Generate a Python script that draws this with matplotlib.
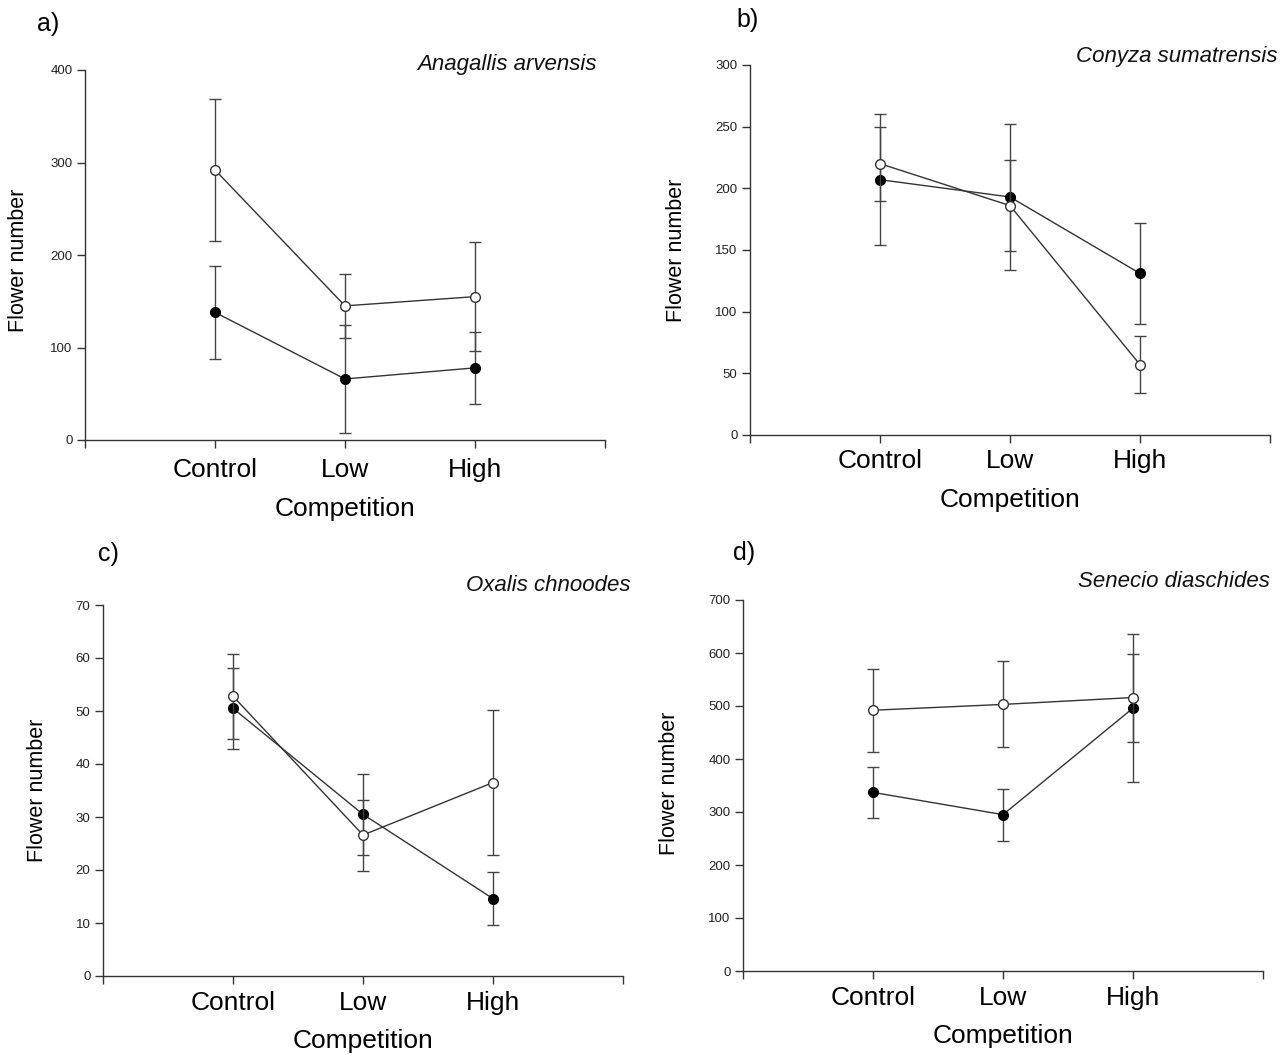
import numpy as np
import matplotlib
matplotlib.use('Agg')
import matplotlib.pyplot as plt

plt.rcParams['font.family'] = ['Liberation Sans', 'DejaVu Sans']

categories = ['Control', 'Low', 'High']
panels = ['a)', 'b)', 'c)', 'd)']
species = ['Anagallis arvensis', 'Conyza sumatrensis', 'Oxalis chnoodes', 'Senecio diaschides']

# open circles
open_mean = [[292, 145, 155], [220, 186, 57], [52.8, 26.6, 36.5], [492, 503, 516]]
open_err = [[77, 35, 59], [30, 37, 23], [8.0, 6.7, 13.7], [78, 81, 83]]
# filled circles
fill_mean = [[138, 66, 78], [207, 193, 131], [50.5, 30.5, 14.6], [337, 295, 496]]
fill_err = [[50, 58, 39], [53, 59, 41], [7.6, 7.6, 5.0], [48, 49, 139]]

y_max = [400, 300, 70, 700]
y_step = [100, 50, 10, 100]

W, H = 1288, 1055
# axes boxes in pixels: left, right, top, bottom
boxes = [(85, 605, 70, 440), (750, 1270, 65, 435), (103, 623, 605, 976), (743, 1263, 600, 971)]
ylab_xy = [(-0.108, 0.486), (-0.121, 0.5), (-0.106, 0.5), (-0.121, 0.507)]
xtick_pad = [7, 4, 5, 5]
xlab_pad = [11, 11, 10, 10]
label_pos = [(37, 24), (736, 20), (98, 554), (733, 553)]
species_pos = [(597, 70), (1277, 62), (631, 591), (1270, 587)]

fig = plt.figure(figsize=(W / 100, H / 100), dpi=100)
x = np.arange(1, 4)
dark = '#333333'

for i in range(4):
    l, r, t, b = boxes[i]
    ax = fig.add_axes([l / W, 1 - b / H, (r - l) / W, (b - t) / H])
    ax.errorbar(x, fill_mean[i], yerr=fill_err[i], color=dark, lw=1, elinewidth=1,
                ecolor='#444444', capsize=4, capthick=1, marker='o', ms=7,
                mfc='black', mec='black', zorder=2)
    ax.errorbar(x, open_mean[i], yerr=open_err[i], color=dark, lw=1, elinewidth=1,
                ecolor='#444444', capsize=4, capthick=1, marker='o', ms=7,
                mfc='white', mec=dark, mew=1, zorder=3)
    ax.set_xlim(0, 4)
    ax.set_ylim(0, y_max[i])
    ax.set_xticks(range(5))
    ax.set_xticklabels([''] + categories + [''], fontsize=19)
    ax.set_yticks(np.arange(0, y_max[i] + 1, y_step[i]))
    ax.tick_params(axis='y', direction='out', length=6, width=1, color=dark,
                   labelsize=9.5, labelcolor='#222222', pad=3)
    ax.tick_params(axis='x', direction='out', length=6, width=1, color=dark,
                   pad=xtick_pad[i])
    for s in ['top', 'right']:
        ax.spines[s].set_visible(False)
    for s in ['left', 'bottom']:
        ax.spines[s].set_color(dark)
        ax.spines[s].set_linewidth(1)
    ax.set_xlabel('Competition', fontsize=19, labelpad=xlab_pad[i])
    ax.set_ylabel('Flower number', fontsize=15.5)
    ax.yaxis.set_label_coords(*ylab_xy[i])
    px, py = label_pos[i]
    fig.text(px / W, 1 - py / H, panels[i], fontsize=18, ha='left', va='center')
    sx, sy = species_pos[i]
    fig.text(sx / W, 1 - sy / H, species[i], fontsize=16, style='italic',
             ha='right', va='baseline', color='#111111')

plt.savefig('out.png', dpi=100)
